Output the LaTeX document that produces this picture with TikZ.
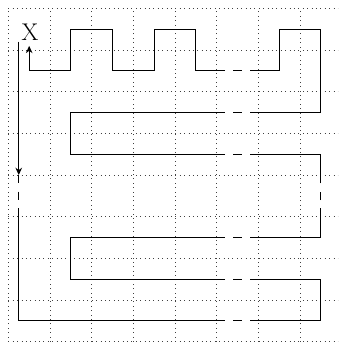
\documentclass[tikz,border=0pt]{standalone}
\usetikzlibrary{arrows.meta}
\begin{document}
\begin{tikzpicture}[x=1cm,y=1cm,
  gridline/.style={black!75, line width=0.5pt, dash pattern=on 0.5pt off 2.5pt},
  wire/.style={line width=0.6pt, black, line join=miter},
  tip/.style={-{Stealth[length=5pt,width=4.5pt]}},
  lbl/.style={font=\fontsize{16.5}{18}\selectfont, inner sep=0pt}]
\useasboundingbox (-0.2,-0.03) rectangle (7.91,8.2);
\clip (-0.2,-0.03) rectangle (7.91,8.2);
\draw[gridline] (0,0) grid (8,8);
% label
\node[lbl] (X) at (0.52,7.43) {X};
% named points
\coordinate (s) at (0.25,7.2);
\coordinate (a) at (0.25,4.0);
\coordinate (e) at (0.5,7.1);
% left arrow and its broken continuation
\draw[wire,tip] (s) -- (a);
\draw[wire] (a) -- (0.25,3.8);
\draw[wire] (0.25,3.6) -- (0.25,3.4);
\draw[wire] (0.25,3.2) -- (0.25,0.5) -- (5.2,0.5);
\draw[wire] (5.4,0.5) -- (5.6,0.5);
\draw[wire] (5.8,0.5) -- (7.5,0.5) -- (7.5,1.5) -- (5.8,1.5);
\draw[wire] (5.6,1.5) -- (5.4,1.5);
\draw[wire] (5.2,1.5) -- (1.5,1.5) -- (1.5,2.5) -- (5.2,2.5);
\draw[wire] (5.4,2.5) -- (5.6,2.5);
\draw[wire] (5.8,2.5) -- (7.5,2.5) -- (7.5,3.2);
\draw[wire] (7.5,3.4) -- (7.5,3.6);
\draw[wire] (7.5,3.8) -- (7.5,4.5) -- (5.8,4.5);
\draw[wire] (5.6,4.5) -- (5.4,4.5);
\draw[wire] (5.2,4.5) -- (1.5,4.5) -- (1.5,5.5) -- (5.2,5.5);
\draw[wire] (5.4,5.5) -- (5.6,5.5);
\draw[wire] (5.8,5.5) -- (7.5,5.5) -- (7.5,7.5) -- (6.5,7.5) -- (6.5,6.5) -- (5.8,6.5);
\draw[wire] (5.6,6.5) -- (5.4,6.5);
\draw[wire,tip] (5.2,6.5) -- (4.5,6.5) -- (4.5,7.5) -- (3.5,7.5) -- (3.5,6.5)
  -- (2.5,6.5) -- (2.5,7.5) -- (1.5,7.5) -- (1.5,6.5) -- (0.5,6.5) -- (e);
\end{tikzpicture}
\end{document}
